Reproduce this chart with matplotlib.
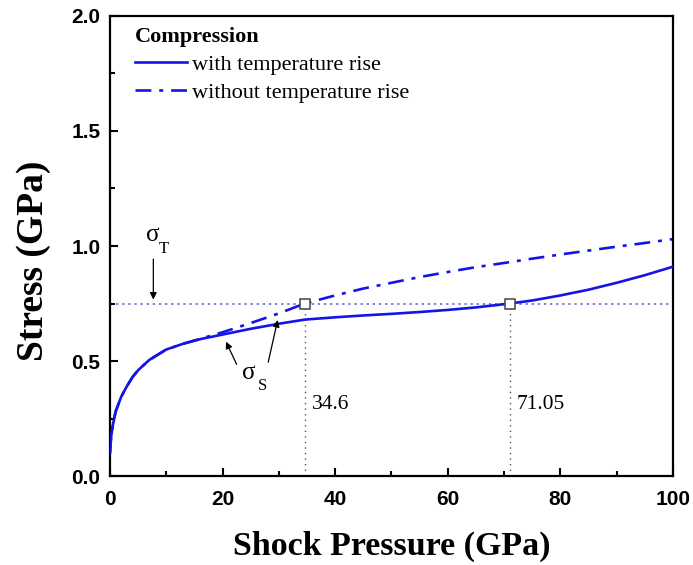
import matplotlib
matplotlib.use("Agg")
import matplotlib.pyplot as plt
from matplotlib.ticker import MultipleLocator

# Shock pressure (GPa) and resulting stress (GPa)
pressure = [0, 0.2, 0.5, 1, 2, 3, 4, 5, 7, 10, 13, 16, 20, 25, 30, 34.6, 40, 45,
            50, 55, 60, 65, 71.05, 75, 80, 85, 90, 95, 100]
stress_with_temp = [0.10, 0.17, 0.22, 0.28, 0.345, 0.39, 0.43, 0.46, 0.505, 0.55,
                    0.575, 0.595, 0.615, 0.64, 0.662, 0.68, 0.69, 0.698, 0.705,
                    0.713, 0.722, 0.733, 0.75, 0.763, 0.785, 0.81, 0.84, 0.873, 0.91]
stress_without_temp = [0.10, 0.17, 0.22, 0.28, 0.345, 0.39, 0.43, 0.46, 0.505, 0.55,
                       0.575, 0.596, 0.625, 0.665, 0.707, 0.75, 0.785, 0.815, 0.84,
                       0.865, 0.887, 0.908, 0.93, 0.945, 0.963, 0.98, 0.997, 1.013, 1.03]

sigma_T = 0.75
crossings = [34.6, 71.05]
crossing_labels = ["34.6", "71.05"]

x_ticks = [0, 20, 40, 60, 80, 100]
y_ticks = [0.0, 0.5, 1.0, 1.5, 2.0]

serif = ["Liberation Serif", "DejaVu Serif"]
sans = ["Liberation Sans", "DejaVu Sans"]
blue = "#1414e6"

fig = plt.figure(figsize=(6.93, 5.65), dpi=100)
ax = fig.add_axes([0.1587, 0.1575, 0.8123, 0.8142])

ax.axhline(sigma_T, color="#5a5ad8", lw=1.1, ls=(0, (1.5, 2.5)), zorder=1)
for xc in crossings:
    ax.plot([xc, xc], [0, sigma_T], color="#555555", lw=1.0, ls=(0, (1, 3)), zorder=1)

ax.plot(pressure, stress_with_temp, color=blue, lw=1.9, label="with temperature rise", zorder=3)
ax.plot(pressure, stress_without_temp, color=blue, lw=1.9,
        dashes=(6, 3, 1.5, 3), label="without temperature rise", zorder=2)

ax.plot(crossings, [sigma_T] * len(crossings), ls="none", marker="s", ms=6.5,
        mfc="white", mec="#444444", mew=1.1, zorder=4)

for xc, lab in zip(crossings, crossing_labels):
    ax.text(xc + 1.2, 0.313, lab, family=serif, fontsize=15.5, ha="left", va="center")

arrow = dict(arrowstyle="-|>", color="black", lw=0.9, mutation_scale=10)

# sigma_T annotation
ax.text(6.4, 1.05, "σ", family=serif, fontsize=18, ha="left", va="center")
ax.text(8.7, 0.985, "T", family=serif, fontsize=12, ha="left", va="center")
ax.annotate("", xy=(7.7, 0.755), xytext=(7.7, 0.955), arrowprops=arrow)

# sigma_S annotation
ax.text(23.5, 0.45, "σ", family=serif, fontsize=18, ha="left", va="center")
ax.text(26.3, 0.39, "S", family=serif, fontsize=12, ha="left", va="center")
ax.annotate("", xy=(20.4, 0.595), xytext=(22.7, 0.475), arrowprops=arrow)
ax.annotate("", xy=(29.9, 0.69), xytext=(28.0, 0.483), arrowprops=arrow)

ax.set_xlim(0, 100)
ax.set_ylim(0, 2.0)
ax.set_xticks(x_ticks)
ax.set_yticks(y_ticks)
ax.set_xticklabels([str(v) for v in x_ticks])
ax.set_yticklabels([f"{v:.1f}" for v in y_ticks])
ax.xaxis.set_minor_locator(MultipleLocator(10))
ax.yaxis.set_minor_locator(MultipleLocator(0.25))
ax.tick_params(which="both", direction="in", top=False, right=False, width=1.5)
ax.tick_params(which="major", length=6)
ax.tick_params(axis="x", which="major", pad=10)
ax.tick_params(axis="y", which="major", pad=7)
ax.tick_params(which="minor", length=3.5)
for lab in ax.get_xticklabels() + ax.get_yticklabels():
    lab.set_family(sans)
    lab.set_fontweight("bold")
    lab.set_fontsize(15)
for sp in ax.spines.values():
    sp.set_linewidth(1.6)

ax.set_xlabel("Shock Pressure (GPa)", family=serif, fontweight="bold", fontsize=24.5)
ax.xaxis.set_label_coords(0.501, -0.12)
ax.set_ylabel("Stress (GPa)", family=serif, fontweight="bold", fontsize=27)
ax.yaxis.set_label_coords(-0.105, 0.467)

leg = ax.legend(loc="upper left", bbox_to_anchor=(0.02, 1.006), frameon=False,
                title="Compression", alignment="left", handlelength=2.35,
                handletextpad=0.22, borderaxespad=0.2, labelspacing=0.35,
                prop={"family": serif, "size": 16})
leg.get_title().set_family(serif)
leg.get_title().set_fontweight("bold")
leg.get_title().set_fontsize(16)

fig.savefig("out.png", dpi=100)
